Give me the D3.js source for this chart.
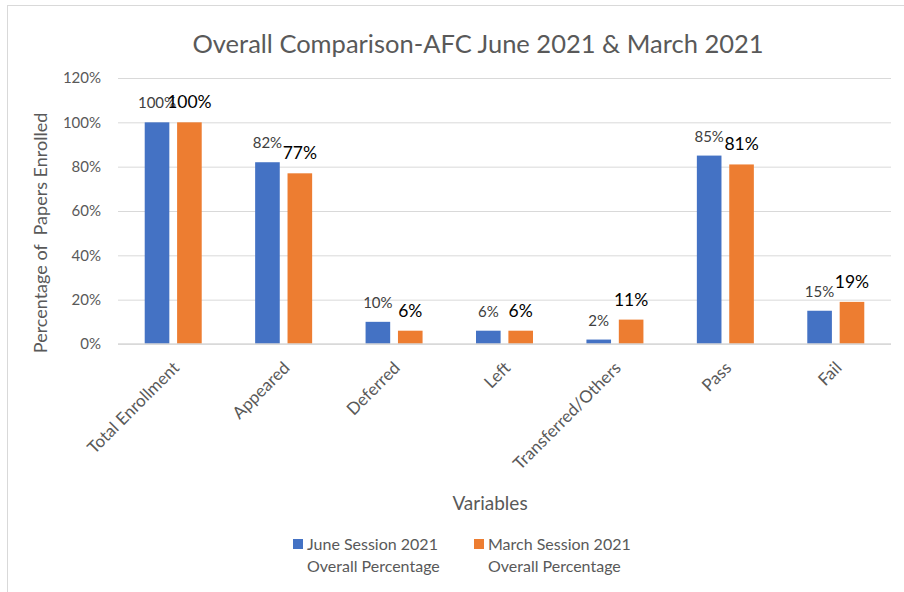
<!DOCTYPE html>
<html lang="en">
<head>
  <meta charset="UTF-8">
  <title>Overall Comparison-AFC June 2021 &amp; March 2021</title>
  <script src="https://cdn.jsdelivr.net/npm/d3@7"></script>
  <style>
    body { margin: 0; background: #fff; }
    text { font-family: Lato, "Open Sans", sans-serif; }
  </style>
</head>
<body>
<div id="chart"></div>
<script>
// data
const categories = ["Total Enrollment", "Appeared", "Deferred", "Left", "Transferred/Others", "Pass", "Fail"];
const seriesNames = ["June Session 2021 Overall Percentage", "March Session 2021 Overall Percentage"];
const juneValues = [100, 82, 10, 6, 2, 85, 15];
const marchValues = [100, 77, 6, 6, 11, 81, 19];
const yTicks = [0, 20, 40, 60, 80, 100, 120];

const colors = ["#4472c4", "#ed7d31"];
const width = 904, height = 592;
const margin = { top: 78, right: 13, bottom: 248, left: 118 };

const svg = d3.select("#chart").append("svg")
  .attr("width", width)
  .attr("height", height);

// outer frame
svg.append("rect")
  .attr("x", 7.5).attr("y", 5.5)
  .attr("width", width).attr("height", height)
  .attr("fill", "#fff").attr("stroke", "#d9d9d9");

const x = d3.scaleBand()
  .domain(categories)
  .range([margin.left, width - margin.right]);

const x1 = d3.scaleBand()
  .domain([0, 1])
  .range([x.bandwidth() / 2 - 28.5, x.bandwidth() / 2 + 28.5])
  .paddingInner(0.24);

const y = d3.scaleLinear()
  .domain([0, 120])
  .range([height - margin.bottom, margin.top]);

// gridlines + y labels
const yAxis = svg.append("g")
  .attr("transform", `translate(${margin.left},0)`)
  .call(d3.axisLeft(y).tickValues(yTicks).tickFormat(d => d + "%")
    .tickSize(-(width - margin.left - margin.right)).tickPadding(17));
yAxis.select(".domain").remove();
yAxis.selectAll(".tick line").attr("stroke", "#d9d9d9");
yAxis.selectAll(".tick text").attr("fill", "#595959").attr("font-size", "15px");

// bars
const series = [juneValues, marchValues];
series.forEach((vals, s) => {
  svg.append("g").selectAll("rect")
    .data(categories)
    .join("rect")
    .attr("x", d => x(d) + x1(s))
    .attr("width", x1.bandwidth())
    .attr("y", (d, i) => y(vals[i]))
    .attr("height", (d, i) => y(0) - y(vals[i]))
    .attr("fill", colors[s]);

  svg.append("g").selectAll("text")
    .data(categories)
    .join("text")
    .attr("x", d => x(d) + x1(s) + x1.bandwidth() / 2)
    .attr("y", (d, i) => y(vals[i]) - 14)
    .attr("text-anchor", "middle")
    .attr("fill", s === 0 ? "#404040" : "#000")
    .attr("font-size", s === 0 ? "15px" : "17.5px")
    .text((d, i) => vals[i] + "%");
});

// x axis line
svg.append("line")
  .attr("x1", margin.left).attr("x2", width - margin.right)
  .attr("y1", y(0)).attr("y2", y(0))
  .attr("stroke", "#d9d9d9").attr("stroke-width", 1.5);

// x labels, rotated
svg.append("g").selectAll("text")
  .data(categories)
  .join("text")
  .attr("transform", d => `translate(${x(d) + x.bandwidth() / 2 + 7},${y(0) + 25}) rotate(-45)`)
  .attr("text-anchor", "end")
  .attr("fill", "#595959")
  .attr("font-size", "17px")
  .text(d => d);

// title
svg.append("text")
  .attr("x", 478).attr("y", 53)
  .attr("text-anchor", "middle")
  .attr("fill", "#595959")
  .attr("font-size", "25.5px")
  .text("Overall Comparison-AFC June 2021 & March 2021");

// axis titles
svg.append("text")
  .attr("transform", `translate(47,${(y(0) + y(120)) / 2 + 22}) rotate(-90)`)
  .attr("text-anchor", "middle")
  .attr("fill", "#595959")
  .attr("font-size", "18px")
  .style("white-space", "pre")
  .text("Percentage of  Papers Enrolled");

svg.append("text")
  .attr("x", 490).attr("y", 510)
  .attr("text-anchor", "middle")
  .attr("fill", "#595959")
  .attr("font-size", "19px")
  .text("Variables");

// legend
const legendX = [293, 474];
seriesNames.forEach((name, s) => {
  const g = svg.append("g").attr("transform", `translate(${legendX[s]},539)`);
  g.append("rect").attr("width", 10).attr("height", 10).attr("fill", colors[s]);
  const words = name.split(" Overall ");
  g.append("text").attr("x", 14).attr("y", 11)
    .attr("fill", "#595959").attr("font-size", "16px").text(words[0]);
  g.append("text").attr("x", 14).attr("y", 33)
    .attr("fill", "#595959").attr("font-size", "16px").text("Overall " + words[1]);
});
</script>
</body>
</html>
